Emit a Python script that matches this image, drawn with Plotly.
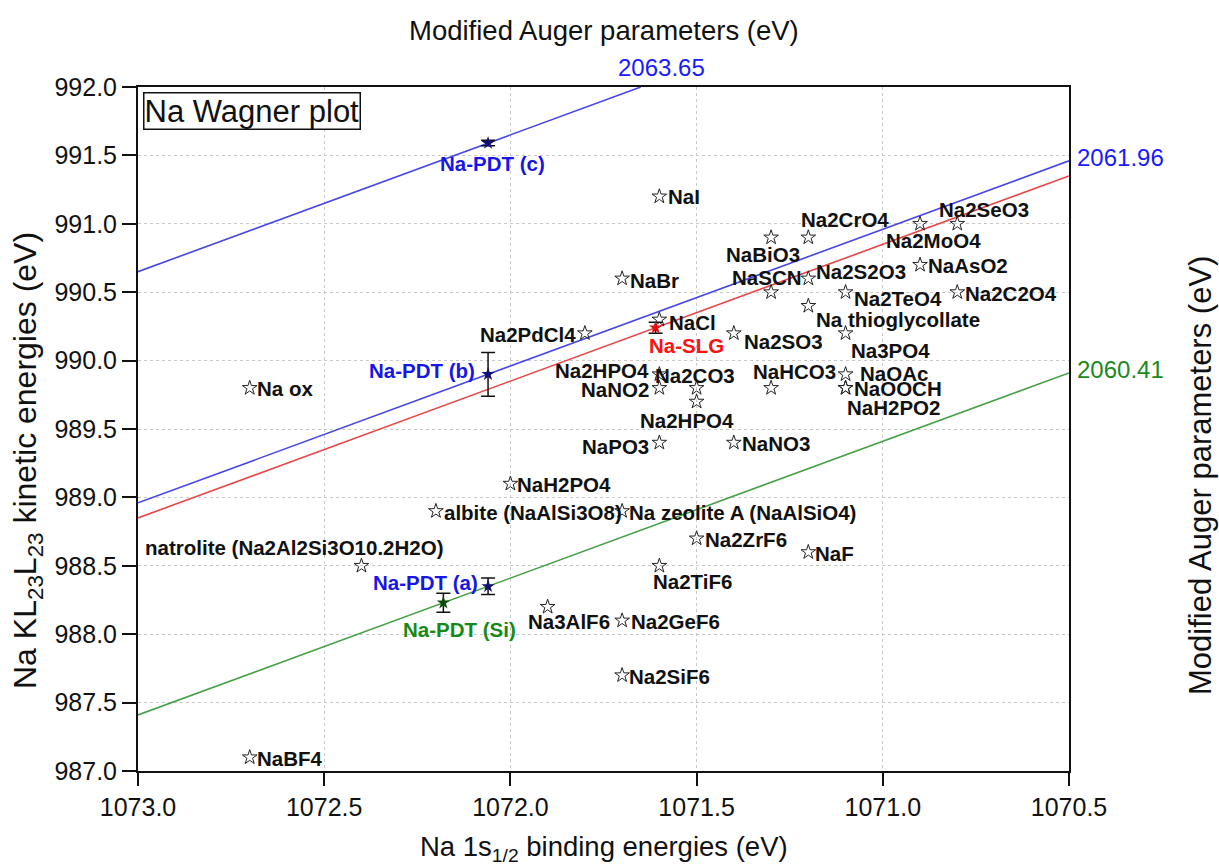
import plotly.graph_objects as go

# Reference compounds: Na 1s binding energy (eV) and Na KLL kinetic energy (eV)
ref_names = [
    "NaI", "NaBr", "Na2PdCl4", "NaCl", "Na2HPO4", "Na2CO3", "NaNO2", "Na2HPO4",
    "NaPO3", "NaNO3", "Na2SO3", "NaHCO3", "NaBiO3", "Na2CrO4", "NaSCN", "Na2S2O3",
    "Na thioglycollate", "Na2TeO4", "Na3PO4", "NaOAc", "NaOOCH", "NaH2PO2",
    "Na2MoO4", "Na2SeO3", "NaAsO2", "Na2C2O4", "Na ox", "NaH2PO4",
    "albite (NaAlSi3O8)", "Na zeolite A (NaAlSiO4)", "natrolite (Na2Al2Si3O10.2H2O)",
    "Na2ZrF6", "NaF", "Na2TiF6", "Na3AlF6", "Na2GeF6", "Na2SiF6", "NaBF4",
]
ref_be = [
    1071.6, 1071.7, 1071.8, 1071.6, 1071.6, 1071.5, 1071.6, 1071.5,
    1071.6, 1071.4, 1071.4, 1071.3, 1071.3, 1071.2, 1071.3, 1071.2,
    1071.2, 1071.1, 1071.1, 1071.1, 1071.1, 1071.1,
    1070.9, 1070.8, 1070.9, 1070.8, 1072.7, 1072.0,
    1072.2, 1071.7, 1072.4,
    1071.5, 1071.2, 1071.6, 1071.9, 1071.7, 1071.7, 1072.7,
]
ref_ke = [
    991.2, 990.6, 990.2, 990.3, 989.9, 989.8, 989.8, 989.7,
    989.4, 989.4, 990.2, 989.8, 990.9, 990.9, 990.5, 990.6,
    990.4, 990.5, 990.2, 989.9, 989.8, 989.8,
    991.0, 991.0, 990.7, 990.5, 989.8, 989.1,
    988.9, 988.9, 988.5,
    988.7, 988.6, 988.5, 988.2, 988.1, 987.7, 987.1,
]

# Measured samples with uncertainties in the kinetic energy
pdt_names = ["Na-PDT (c)", "Na-PDT (b)", "Na-PDT (a)", "Na-PDT (Si)", "Na-SLG"]
pdt_be = [1072.06, 1072.06, 1072.06, 1072.18, 1071.61]
pdt_ke = [991.59, 989.90, 988.35, 988.23, 990.24]
pdt_err = [0.02, 0.16, 0.06, 0.07, 0.04]

# Constant modified Auger parameter lines (alpha' = BE + KE)
alpha_values = [2063.65, 2061.96, 2061.85, 2060.41]
alpha_labels = ["2063.65", "2061.96", "", "2060.41"]

x_ticks = [1073.0, 1072.5, 1072.0, 1071.5, 1071.0, 1070.5]
y_ticks = [987.0, 987.5, 988.0, 988.5, 989.0, 989.5, 990.0, 990.5, 991.0, 991.5, 992.0]

X_MAX, X_MIN = 1073.0, 1070.5
Y_MIN, Y_MAX = 987.0, 992.0

# Label placement (xanchor, x shift px, y shift px) for each reference compound
ref_label_style = [
    ("left", 7, 0), ("left", 6, -2), ("right", -7, -1), ("left", 8, -3),
    ("right", -8, 4), ("center", -2, 12), ("right", -8, -2), ("center", -10, -19),
    ("right", -8, -4), ("left", 6, -1), ("left", 8, -8), ("center", 23, 16),
    ("center", -8, -17), ("center", 37, 18), ("center", -4, 15), ("left", 6, 7),
    ("left", 6, -14), ("left", 6, -6), ("left", 3, -17), ("left", 12, 1),
    ("left", 6, -1), ("left", -1, -20),
    ("center", 13, -17), ("center", 27, 14), ("left", 6, -1), ("left", 6, -1),
    ("left", 5, -1), ("left", 5, -1),
    ("left", 6, -1), ("left", 5, -1), ("center", -67, 18),
    ("left", 6, -1), ("left", 5, -1), ("center", 33, -16), ("center", 21, -15),
    ("left", 7, -1), ("left", 5, -1), ("left", 5, -1),
]
pdt_label_style = [
    ("center", 4, -20), ("right", -11, 4), ("right", -8, 4), ("center", 16, -27),
    ("left", -9, -18),
]
pdt_label_colors = ["#1616e6", "#1616e6", "#1616e6", "#168a16", "#ff1010"]
pdt_marker_colors = ["#101070", "#101070", "#101070", "#0b4a0b", "#e01010"]
line_colors = ["#4646e6", "#4646e6", "#e64646", "#46a046"]
alpha_label_colors = ["#1a1aff", "#1a1aff", "#e01010", "#1a8a1a"]

FONT = "Arial, Liberation Sans, sans-serif"
LABEL_SIZE = 20.5

fig = go.Figure()

# Auger parameter lines, clipped to the plot window
for a, col in zip(alpha_values, line_colors):
    x0 = X_MAX
    x1 = max(X_MIN, a - Y_MAX)
    fig.add_trace(go.Scatter(
        x=[x0, x1], y=[a - x0, a - x1], mode="lines",
        line=dict(color=col, width=1.6), hoverinfo="skip", showlegend=False,
    ))

# Reference compounds
fig.add_trace(go.Scatter(
    x=ref_be, y=ref_ke, mode="markers",
    marker=dict(symbol="star-open", size=11, color="#222222", line=dict(width=1, color="#222222")),
    text=ref_names, showlegend=False,
))

# Measured samples with error bars
for name, be, ke, err, mc in zip(pdt_names, pdt_be, pdt_ke, pdt_err, pdt_marker_colors):
    fig.add_trace(go.Scatter(
        x=[be], y=[ke], mode="markers",
        marker=dict(symbol="star", size=10, color=mc),
        error_y=dict(type="data", array=[err], color="#111111", thickness=1.5, width=7),
        name=name, showlegend=False,
    ))

annotations = []
for name, be, ke, (anc, dx, dy) in zip(ref_names, ref_be, ref_ke, ref_label_style):
    annotations.append(dict(
        x=be, y=ke, xref="x", yref="y", text=f"<b>{name}</b>", showarrow=False,
        xanchor=anc, yanchor="middle", xshift=dx, yshift=dy,
        font=dict(family=FONT, size=LABEL_SIZE, color="#111111"),
    ))
for name, be, ke, (anc, dx, dy), col in zip(pdt_names, pdt_be, pdt_ke, pdt_label_style, pdt_label_colors):
    annotations.append(dict(
        x=be, y=ke, xref="x", yref="y", text=f"<b>{name}</b>", showarrow=False,
        xanchor=anc, yanchor="middle", xshift=dx, yshift=dy,
        font=dict(family=FONT, size=LABEL_SIZE, color=col),
    ))

# Values of the Auger parameter lines at their end points
for a, lab, col in zip(alpha_values, alpha_labels, alpha_label_colors):
    if not lab:
        continue
    if a - X_MIN > Y_MAX:
        annotations.append(dict(
            x=a - Y_MAX, y=Y_MAX, xref="x", yref="y", text=lab, showarrow=False,
            xanchor="center", yanchor="bottom", xshift=21, yshift=4,
            font=dict(family=FONT, size=24, color=col),
        ))
    else:
        annotations.append(dict(
            x=X_MIN, y=a - X_MIN, xref="x", yref="y", text=lab, showarrow=False,
            xanchor="left", yanchor="middle", xshift=6, yshift=3,
            font=dict(family=FONT, size=24, color=col),
        ))

# Axis titles
annotations.append(dict(
    x=0.5, y=1, xref="paper", yref="paper", yshift=57, text="Modified Auger parameters (eV)",
    showarrow=False, xanchor="center", yanchor="middle",
    font=dict(family=FONT, size=27.5, color="#111111"),
))
annotations.append(dict(
    x=1, y=0.5, xref="paper", yref="paper", xshift=131, yshift=-47,
    text="Modified Auger parameters (eV)",
    showarrow=False, xanchor="center", yanchor="middle", textangle=-90,
    font=dict(family=FONT, size=31, color="#111111"),
))
annotations.append(dict(
    x=0, y=0.5, xref="paper", yref="paper", xshift=-111, yshift=-32,
    text="Na KL<sub>23</sub>L<sub>23</sub> kinetic energies (eV)",
    showarrow=False, xanchor="center", yanchor="middle", textangle=-90,
    font=dict(family=FONT, size=32, color="#111111"),
))
annotations.append(dict(
    x=0.5, y=0, xref="paper", yref="paper", yshift=-77,
    text="Na 1s<sub>1/2</sub> binding energies (eV)",
    showarrow=False, xanchor="center", yanchor="middle",
    font=dict(family=FONT, size=27.5, color="#111111"),
))

# Title box
annotations.append(dict(
    x=0, y=1, xref="paper", yref="paper", xshift=5, yshift=-5,
    text="Na Wagner plot", showarrow=False, xanchor="left", yanchor="top",
    font=dict(family=FONT, size=31, color="#111111"),
    bordercolor="#111111", borderwidth=1.5, borderpad=0, bgcolor="white",
))

fig.update_layout(
    width=1219, height=866,
    margin=dict(l=138, r=150, t=87, b=95),
    paper_bgcolor="white", plot_bgcolor="white",
    font=dict(family=FONT, size=22, color="#111111"),
    annotations=annotations,
    showlegend=False,
)

fig.update_xaxes(
    range=[X_MAX, X_MIN], tickvals=x_ticks, tickformat=".1f",
    ticks="outside", ticklen=13, tickwidth=2, tickcolor="#111111",
    showline=True, linewidth=2, linecolor="#111111", mirror=True,
    showgrid=True, gridcolor="#c8c8c8", griddash="dot", gridwidth=1,
    zeroline=False, tickfont=dict(size=25),
)
fig.update_yaxes(
    range=[Y_MIN, Y_MAX], tickvals=y_ticks, tickformat=".1f",
    ticks="outside", ticklen=14, tickwidth=2, tickcolor="#111111",
    showline=True, linewidth=2, linecolor="#111111", mirror=True,
    showgrid=True, gridcolor="#c8c8c8", griddash="dot", gridwidth=1,
    zeroline=False, tickfont=dict(size=25),
)

fig.write_html("out.html")
